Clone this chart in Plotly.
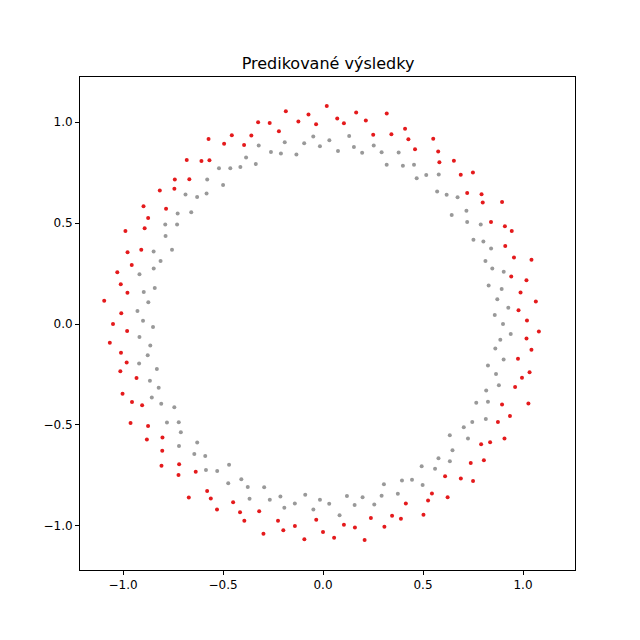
import numpy as np
import plotly.graph_objects as go

red_angle_deg = [1,4,6,9,12,14,17,19,23,26,28,31,34,37,39,42,45,47,51,54,56,59,62,65,67,70,73,75,78,81,84,86,89,92,94,97,100,103,105,108,111,114,116,119,122,125,127,130,133,136,138,141,144,147,149,152,155,158,160,163,166,169,171,174,177,180,182,185,188,191,193,196,199,202,204,207,210,213,215,218,221,224,226,229,232,235,237,240,243,246,248,251,254,257,259,262,265,268,270,273,276,279,281,284,287,290,292,295,298,301,303,306,309,312,314,317,320,323,325,328,331,334,336,339,342,345,347,350,353,356,358]
red_radius = [1.02,0.98,1.07,1.00,1.04,0.97,1.09,1.01,0.99,1.05,1.03,0.98,1.08,1.00,1.02,0.97,1.06,1.01,1.04,0.99,1.03,1.07,0.98,1.01,1.05,1.00,1.09,0.97,1.03,1.06,1.00,1.02,1.08,0.99,1.04,1.01,1.07,0.98,1.03,1.05,1.00,0.97,1.04,1.02,1.08,0.99,1.01,1.06,0.98,1.03,1.00,1.05,0.97,1.07,1.02,1.01,1.09,0.98,1.04,1.00,1.06,1.03,0.99,1.10,1.01,1.05,0.98,1.07,1.02,1.00,1.04,0.97,1.06,1.03,0.99,1.08,1.01,1.05,0.98,1.02,1.07,1.00,1.04,0.97,1.09,1.01,1.03,1.06,0.99,1.02,1.05,0.98,1.08,1.00,1.04,1.01,1.07,0.97,1.03,1.06,1.00,1.02,1.09,0.99,1.05,1.01,1.04,0.98,1.07,1.02,1.00,1.06,0.97,1.03,1.08,1.01,1.05,0.99,1.02,1.07,1.00,1.04,0.98,1.10,1.01,1.03,1.06,0.99,1.05,1.02,1.08]
gray_angle_deg = [0,3,5,8,11,13,16,18,21,24,27,29,32,35,38,40,43,46,49,52,55,57,60,63,66,68,71,74,77,80,82,85,88,91,93,96,99,102,104,107,110,113,115,118,121,124,126,129,132,135,137,140,143,146,148,151,154,157,159,162,165,168,170,173,176,179,181,184,187,190,192,195,198,201,203,206,209,212,214,217,220,223,225,228,231,234,236,239,242,245,247,250,253,256,258,261,264,267,269,272,275,278,280,283,286,289,291,294,297,300,302,305,308,311,313,316,319,322,324,327,330,333,335,338,341,344,346,349,352,355,357]
gray_radius = [0.90,0.86,0.93,0.88,0.91,0.85,0.94,0.89,0.87,0.92,0.90,0.86,0.93,0.88,0.91,0.84,0.92,0.89,0.87,0.94,0.90,0.86,0.91,0.88,0.93,0.85,0.90,0.92,0.87,0.89,0.94,0.86,0.91,0.88,0.93,0.90,0.85,0.92,0.87,0.89,0.94,0.86,0.91,0.88,0.90,0.93,0.85,0.92,0.87,0.89,0.94,0.86,0.91,0.88,0.93,0.90,0.84,0.92,0.87,0.89,0.95,0.86,0.91,0.88,0.93,0.90,0.85,0.92,0.87,0.89,0.94,0.86,0.91,0.88,0.93,0.90,0.85,0.92,0.87,0.89,0.94,0.86,0.91,0.88,0.93,0.90,0.84,0.92,0.87,0.89,0.94,0.86,0.91,0.88,0.93,0.90,0.85,0.92,0.87,0.89,0.95,0.86,0.91,0.88,0.93,0.90,0.85,0.92,0.87,0.89,0.94,0.86,0.91,0.88,0.93,0.90,0.84,0.92,0.87,0.89,0.94,0.86,0.91,0.88,0.93,0.90,0.85,0.92,0.87,0.89,0.94]
tick_vals = [-1.0, -0.5, 0.0, 0.5, 1.0]
tick_text = ["\u22121.0", "\u22120.5", "0.0", "0.5", "1.0"]

def xy(angles, radii):
    n = min(len(angles), len(radii))
    a = np.radians(np.array(angles[:n], dtype=float))
    r = np.array(radii[:n])
    return r * np.cos(a), r * np.sin(a)

gx, gy = xy(gray_angle_deg, gray_radius)
rx, ry = xy(red_angle_deg, red_radius)

fig = go.Figure()
fig.add_trace(go.Scatter(x=gx, y=gy, mode="markers", marker=dict(color="#999999", size=4), showlegend=False))
fig.add_trace(go.Scatter(x=rx, y=ry, mode="markers", marker=dict(color="#e41a1c", size=4), showlegend=False))

axis = dict(showgrid=False, zeroline=False, showline=True, linecolor="black", mirror=True,
            ticks="outside", ticklen=4, tickcolor="black", tickvals=tick_vals, ticktext=tick_text,
            tickfont=dict(family="DejaVu Sans", size=12, color="black"))
fig.update_xaxes(range=[-1.215, 1.26], **axis)
fig.update_yaxes(range=[-1.218, 1.223], **axis)
fig.update_layout(
    width=640, height=640, plot_bgcolor="white", paper_bgcolor="white",
    margin=dict(l=72, r=73, t=69, b=78),
    title=dict(text="Predikované výsledky", x=0.5, xanchor="center", y=0.905, yanchor="bottom",
               font=dict(family="DejaVu Sans", size=16, color="black")),
)
fig.write_html("out.html")
